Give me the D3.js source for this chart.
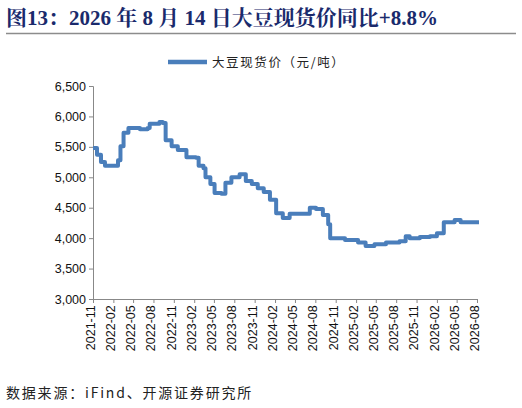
<!DOCTYPE html>
<html><head><meta charset="utf-8">
<script src="https://cdn.jsdelivr.net/npm/d3@7"></script>
<style>body{margin:0;background:#fff}</style></head>
<body><svg id="c" width="522" height="408"></svg>
<script>
const dates=["2021-11-01","2021-11-19","2021-12-07","2021-12-25","2022-01-25","2022-02-22","2022-03-05","2022-03-19","2022-04-10","2022-06-01","2022-07-06","2022-07-15","2022-08-28","2022-09-12","2022-09-25","2022-10-22","2022-11-19","2022-12-12","2022-12-28","2023-02-09","2023-02-21","2023-03-15","2023-03-24","2023-04-15","2023-05-04","2023-06-04","2023-06-22","2023-07-19","2023-08-25","2023-09-22","2023-10-19","2023-11-15","2023-12-12","2024-01-09","2024-02-06","2024-03-07","2024-04-07","2024-06-07","2024-07-07","2024-08-04","2024-09-04","2024-09-28","2024-10-07","2024-11-04","2024-12-13","2025-02-10","2025-03-16","2025-04-25","2025-06-16","2025-08-16","2025-09-13","2025-10-01","2025-11-16","2026-01-01","2026-02-01","2026-02-28","2026-03-04","2026-04-22","2026-05-19","2026-08-10"];
const prices=[5480,5370,5250,5190,5190,5280,5510,5730,5810,5790,5810,5880,5910,5890,5610,5510,5450,5450,5330,5320,5190,5150,5000,4890,4740,4730,4910,5000,5050,4940,4890,4820,4760,4630,4410,4330,4400,4400,4500,4480,4380,4230,4000,4000,3970,3930,3870,3900,3930,3950,4030,4000,4020,4030,4080,4080,4260,4300,4260,4260];
const yTicks=[3000,3500,4000,4500,5000,5500,6000,6500];
const xTickLabels=["2021-11","2022-02","2022-05","2022-08","2022-11","2023-02","2023-05","2023-08","2023-11","2024-02","2024-05","2024-08","2024-11","2025-02","2025-05","2025-08","2025-11","2026-02","2026-05","2026-08"];
const seriesName="大豆现货价（元/吨）";
const title="图13：2026 年 8 月 14 日大豆现货价同比+8.8%";
const source="数据来源：iFind、开源证券研究所";

const svg=d3.select("#c");
const parse=d3.timeParse("%Y-%m-%d"), pm=d3.timeParse("%Y-%m");
const x=d3.scaleTime().domain([pm("2021-11"),pm("2026-08")]).range([93,477]);
const y=d3.scaleLinear().domain([3000,6500]).range([299,86]);
svg.append("text").attr("x",6).attr("y",25).text(title).attr("fill","#1a2a6c")
 .attr("font-family","'Liberation Serif','Noto Serif CJK SC','Noto Sans CJK SC',serif").attr("font-weight","bold").attr("font-size",21);
svg.append("line").attr("x1",6).attr("x2",516).attr("y1",33.5).attr("y2",33.5).attr("stroke","#8c8c8c").attr("stroke-width",1.5);
// legend
svg.append("line").attr("x1",168).attr("x2",207).attr("y1",62).attr("y2",62).attr("stroke","#4a7ebb").attr("stroke-width",4.5);
svg.append("text").attr("x",212).attr("y",67).text(seriesName).attr("font-family","'Noto Sans CJK SC',sans-serif").attr("font-size",12.5).attr("letter-spacing",1.6).attr("fill","#222");
// y axis
const ya=svg.append("g").attr("transform","translate(93,0)").call(d3.axisLeft(y).tickValues(yTicks).tickFormat(d3.format(",")).tickSize(4));
ya.selectAll("text").attr("font-family","'Liberation Sans',Arial,sans-serif").attr("font-size",12.5).attr("fill","#111");
ya.select(".domain").attr("stroke","#888");ya.selectAll("line").attr("stroke","#888");
// x axis
const xa=svg.append("g").attr("transform","translate(0,299)").call(d3.axisBottom(x).tickValues(xTickLabels.map(pm)).tickFormat(d3.timeFormat("%Y-%m")).tickSize(4).tickSizeOuter(0));
xa.selectAll("text").attr("font-family","'Liberation Sans',Arial,sans-serif").attr("font-size",12.5).attr("fill","#111")
 .attr("transform","rotate(-90)").attr("text-anchor","end").attr("dx","-0.5em").attr("dy","-0.45em");
xa.select(".domain").attr("stroke","#888");xa.selectAll("line").attr("stroke","#888");
// line
const data=dates.map((d,i)=>({d:parse(d),v:prices[i]}));
svg.append("path").datum(data).attr("fill","none").attr("stroke","#4a7ebb").attr("stroke-width",4).attr("stroke-linejoin","round")
 .attr("d",d3.line().x(d=>x(d.d)).y(d=>y(d.v)).curve(d3.curveStepAfter));
svg.append("text").attr("x",6).attr("y",398).text(source).attr("font-family","'Noto Sans CJK SC',sans-serif").attr("font-size",14).attr("letter-spacing",1.8).attr("fill","#222");
</script></body></html>
